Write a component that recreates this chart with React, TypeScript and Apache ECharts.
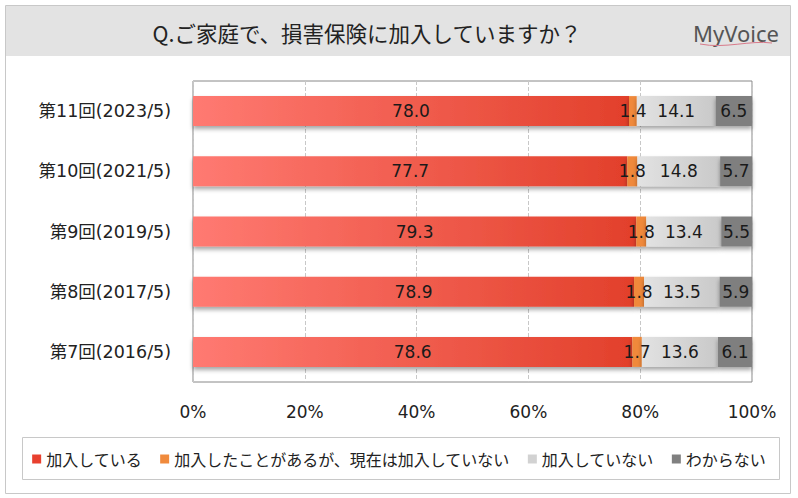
import React, { useEffect, useRef } from "react";
import * as echarts from "echarts";

const categories = ["第11回(2023/5)", "第10回(2021/5)", "第9回(2019/5)", "第8回(2017/5)", "第7回(2016/5)"];
const seriesNames = ["加入している", "加入したことがあるが、現在は加入していない", "加入していない", "わからない"];
const joined = [78.0, 77.7, 79.3, 78.9, 78.6];
const formerly = [1.4, 1.8, 1.8, 1.8, 1.7];
const notJoined = [14.1, 14.8, 13.4, 13.5, 13.6];
const unknown = [6.5, 5.7, 5.5, 5.9, 6.1];

const FONT = "'Noto Sans CJK JP', 'Noto Sans', sans-serif";
const NUMFONT = "'DejaVu Sans', 'Noto Sans CJK JP', sans-serif";

export default function App() {
  const ref = useRef<HTMLDivElement>(null);
  useEffect(() => {
    document.body.style.margin = "0";
    const chart = echarts.init(ref.current!, null, { renderer: "svg" });
    const shadow = { shadowColor: "rgba(0,0,0,0.35)", shadowBlur: 4, shadowOffsetY: 3 };
    const label = {
      show: true,
      position: "inside" as const,
      color: "#1a1a1a",
      fontSize: 17,
      fontFamily: NUMFONT,
      formatter: (p: any) => Number(p.value).toFixed(1),
    };
    const mk = (name: string, data: number[], color: any) => ({
      name,
      type: "bar",
      stack: "total",
      barWidth: 30,
      data,
      itemStyle: { color, ...shadow },
      label,
      emphasis: { disabled: true },
    });
    chart.setOption({
      animation: false,
      textStyle: { fontFamily: FONT },
      graphic: [
        { type: "rect", shape: { x: 5.5, y: 5.5, width: 785, height: 488 }, style: { fill: "#fff", stroke: "#c8c8c8", lineWidth: 1 }, z: -10 },
        { type: "rect", shape: { x: 6, y: 6, width: 784, height: 50 }, style: { fill: "#e3e3e3" }, z: -9 },
        { type: "text", x: 367, y: 32, style: { text: "Q.ご家庭で、損害保険に加入していますか？", fill: "#222", fontSize: 21.5, fontFamily: FONT, align: "center", verticalAlign: "middle" } },
        { type: "text", x: 779, y: 33, style: { text: "MyVoice", fill: "#555", fontSize: 22, fontFamily: "'Noto Sans', sans-serif", align: "right", verticalAlign: "middle" } },
        { type: "bezierCurve", shape: { x1: 700, y1: 44, cpx1: 725, cpy1: 49, cpx2: 750, cpy2: 40, x2: 772, y2: 43 }, style: { stroke: "#d87a8a", lineWidth: 1, fill: "none" } },
        { type: "rect", shape: { x: 22.5, y: 437.5, width: 757, height: 42 }, style: { fill: "none", stroke: "#c8c8c8", lineWidth: 1 }, z: -5 },
      ],
      legend: {
        top: 446,
        left: "center",
        itemWidth: 9,
        itemHeight: 9,
        itemGap: 18,
        icon: "rect",
        textStyle: { fontSize: 16, color: "#222", fontFamily: FONT },
        data: [
          { name: seriesNames[0], itemStyle: { color: "#e8402e", shadowBlur: 0, shadowOffsetY: 0 } },
          { name: seriesNames[1], itemStyle: { color: "#f08a3c", shadowBlur: 0, shadowOffsetY: 0 } },
          { name: seriesNames[2], itemStyle: { color: "#d2d2d2", shadowBlur: 0, shadowOffsetY: 0 } },
          { name: seriesNames[3], itemStyle: { color: "#808080", shadowBlur: 0, shadowOffsetY: 0 } },
        ],
      },
      grid: { left: 193, right: 46, top: 81, bottom: 116, show: true, borderColor: "#888", borderWidth: 1, backgroundColor: "#fff" },
      xAxis: {
        type: "value",
        min: 0,
        max: 100,
        interval: 20,
        axisLabel: { formatter: "{value}%", fontSize: 17, color: "#222", margin: 21, fontFamily: NUMFONT },
        axisLine: { show: false },
        axisTick: { show: false },
        splitLine: { show: true, lineStyle: { color: "#c8c8c8", type: "dashed" } },
      },
      yAxis: {
        type: "category",
        data: categories,
        inverse: true,
        axisLabel: { fontSize: 17.5, color: "#222", margin: 22, fontFamily: NUMFONT },
        axisLine: { show: false },
        axisTick: { show: false },
      },
      series: [
        mk(seriesNames[0], joined, new echarts.graphic.LinearGradient(0, 0, 1, 0, [
          { offset: 0, color: "#ff7a72" },
          { offset: 1, color: "#e2402b" },
        ])),
        mk(seriesNames[1], formerly, "#f0893a"),
        mk(seriesNames[2], notJoined, new echarts.graphic.LinearGradient(0, 0, 1, 0, [
          { offset: 0, color: "#e2e2e2" },
          { offset: 1, color: "#c9c9c9" },
        ])),
        mk(seriesNames[3], unknown, "#7f7f7f"),
      ],
    });
    return () => chart.dispose();
  }, []);
  return <div ref={ref} style={{ width: 798, height: 498 }} />;
}
